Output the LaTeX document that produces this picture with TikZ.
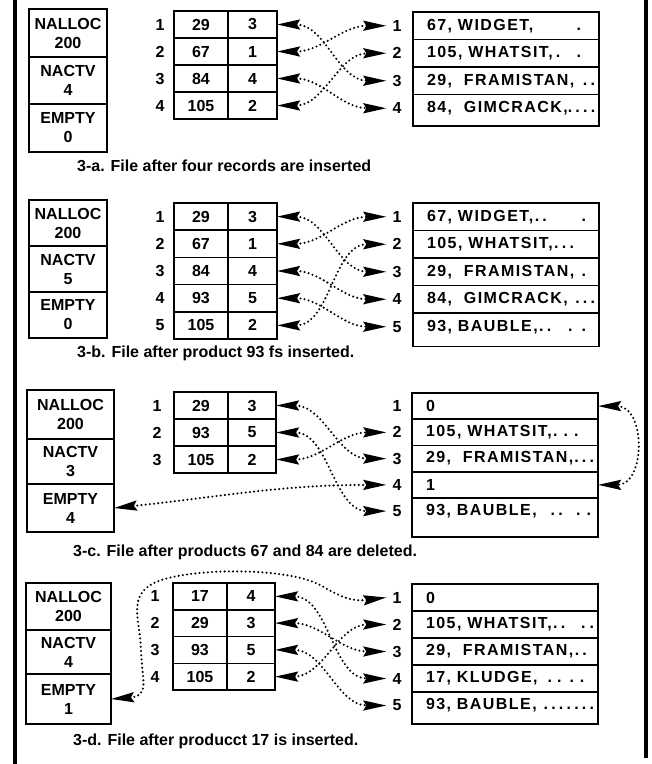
\documentclass[tikz,border=0pt]{standalone}
\usepackage{fontspec}
\setmainfont{Liberation Sans}
\usetikzlibrary{arrows.meta}

\tikzset{
  every node/.append style={font=\bfseries\fontsize{16}{19}\selectfont},
  regbox/.style={draw, line width=1.6pt, outer sep=0pt, inner sep=0pt,
                 anchor=north west, align=center},
  keycell/.style={draw, line width=1.5pt, outer sep=0pt, inner sep=0pt,
                  anchor=north west, minimum width=54pt},
  ptrcell/.style={draw, line width=1.5pt, outer sep=0pt, inner sep=0pt,
                  anchor=north west, minimum width=49pt},
  idx/.style={inner sep=0pt},
  recrow/.style={outer sep=0pt, inner sep=0pt, anchor=north west,
                 minimum width=186pt},
  recno/.style={inner xsep=6pt, inner ysep=0pt},
  frame/.style={line width=1.6pt},
  caption/.style={anchor=west, inner sep=0pt},
  link/.style={{Stealth[length=23pt,width=10pt,inset=3pt]}-{Stealth[length=23pt,width=10pt,inset=3pt]},
               line width=2.3pt, dash pattern=on 0pt off 4.2pt, line cap=round},
  border/.style={line width=3.4pt}
}
% record text: starts 14pt inside the row, ends 4pt before its right edge
\newcommand\rectext[1]{\hspace*{5pt}\makebox[168pt][l]{\addfontfeatures{LetterSpace=9}#1}\hspace*{-5pt}}
% gap between trailing dots
\newcommand\dg{\hspace{3.2pt}}

\begin{document}
\begin{tikzpicture}[x=1pt,y=-1pt]
\fill[white] (0,0) rectangle (652,764);
\useasboundingbox (0,0) rectangle (652,764);

% outer rules
\draw[border] (15,0) -- (15,764);
\draw[border] (646,0) -- (646,758);

% ---------------- 3-a ----------------
\node[regbox, minimum width=78pt, minimum height=48pt] (pa-nalloc) at (29,9) {NALLOC\\200};
\node[regbox, minimum width=78pt, minimum height=47pt] (pa-nactv) at (pa-nalloc.south west) {NACTV\\4};
\node[regbox, minimum width=78pt, minimum height=48pt] (pa-empty) at (pa-nactv.south west) {EMPTY\\0};
\foreach \k/\p [count=\i] in {29/3,67/1,84/4,105/2} {
  \node[keycell, minimum height=27pt] (pa-k\i) at (174,{11+27*(\i-1)}) {\k};
  \node[ptrcell, minimum height=27pt] (pa-p\i) at (pa-k\i.north east) {\p};
  \node[idx] (pa-i\i) at (160,{24.5+27*(\i-1)}) {\i};
}
\foreach \t [count=\i] in {{67, WIDGET,\hfill.\hspace{14pt}},{105, WHATSIT,\dg.\hfill.\hspace{14pt}},{29,\ \ FRAMISTAN,\hfill.\dg.},{84,\ \ GIMCRACK,\hfill.\dg.\dg.\dg.}} {
  \node[recrow, minimum height=27.5pt] (pa-r\i) at (413,{12+27.5*(\i-1)}) {\rectext{\t}};
  \node[recno] (pa-n\i) at ([xshift=-16pt]pa-r\i.west) {\i};
}
\draw[frame] (pa-r1.north west) rectangle ([yshift=-4pt]pa-r4.south east);
\foreach \i in {1,2,3} \draw[frame] (pa-r\i.south west) -- (pa-r\i.south east);
\draw[link] (pa-p1.east) to[out=0,in=180] (pa-n3.west);
\draw[link] (pa-p2.east) to[out=0,in=180] (pa-n1.west);
\draw[link] (pa-p3.east) to[out=0,in=180] (pa-n4.west);
\draw[link] (pa-p4.east) to[out=0,in=180] (pa-n2.west);
\node[caption] (pa-cap) at (77,166) {3-a. File after four records are inserted};

% ---------------- 3-b ----------------
\node[regbox, minimum width=78pt, minimum height=46pt] (pb-nalloc) at (29,200) {NALLOC\\200};
\node[regbox, minimum width=78pt, minimum height=46pt] (pb-nactv) at (pb-nalloc.south west) {NACTV\\5};
\node[regbox, minimum width=78pt, minimum height=46pt] (pb-empty) at (pb-nactv.south west) {EMPTY\\0};
\foreach \k/\p [count=\i] in {29/3,67/1,84/4,93/5,105/2} {
  \node[keycell, minimum height=27.2pt] (pb-k\i) at (174,{203+27.2*(\i-1)}) {\k};
  \node[ptrcell, minimum height=27.2pt] (pb-p\i) at (pb-k\i.north east) {\p};
  \node[idx] (pb-i\i) at (160,{216.6+27.2*(\i-1)}) {\i};
}
\foreach \t [count=\i] in {{67, WIDGET,.\dg.\hfill.\hspace{9pt}},{105, WHATSIT,.\dg.\dg.},{29,\ \ FRAMISTAN,\hfill.\hspace{9pt}},{84,\ \ GIMCRACK,\hfill.\dg.\dg.},{93, BAUBLE,.\dg.\hfill.\hspace{9pt}.\hspace{9pt}}} {
  \node[recrow, minimum height=27.5pt] (pb-r\i) at (413,{203+27.5*(\i-1)}) {\rectext{\t}};
  \node[recno] (pb-n\i) at ([xshift=-16pt]pb-r\i.west) {\i};
}
\draw[frame] (pb-r1.north west) rectangle ([yshift=-6pt]pb-r5.south east);
\foreach \i in {1,...,4} \draw[frame] (pb-r\i.south west) -- (pb-r\i.south east);
\draw[link] (pb-p1.east) to[out=0,in=180] (pb-n3.west);
\draw[link] (pb-p2.east) to[out=0,in=180] (pb-n1.west);
\draw[link] (pb-p3.east) to[out=0,in=180] (pb-n4.west);
\draw[link] (pb-p4.east) to[out=0,in=180] (pb-n5.west);
\draw[link] (pb-p5.east) to[out=0,in=180] (pb-n2.west);
\node[caption] (pb-cap) at (77,353) {3-b. File after product 93 fs inserted.};

% ---------------- 3-c ----------------
\node[regbox, minimum width=87pt, minimum height=49pt] (pc-nalloc) at (27,390) {NALLOC\\200};
\node[regbox, minimum width=87pt, minimum height=45pt] (pc-nactv) at (pc-nalloc.south west) {NACTV\\3};
\node[regbox, minimum width=87pt, minimum height=48pt] (pc-empty) at (pc-nactv.south west) {EMPTY\\4};
\foreach \k/\p [count=\i] in {29/3,93/5,105/2} {
  \node[keycell, minimum height=27pt] (pc-k\i) at (174,{392+27*(\i-1)}) {\k};
  \node[ptrcell, minimum height=27pt, minimum width=48pt] (pc-p\i) at (pc-k\i.north east) {\p};
  \node[idx] (pc-i\i) at (157,{405.5+27*(\i-1)}) {\i};
}
\foreach \t [count=\i] in {{0},{105, WHATSIT,.\hspace{6pt}.\hspace{6pt}.},{29,\ \ FRAMISTAN,\hfill.\dg.\dg.},{1},{93, BAUBLE,\hspace{14pt}.\dg.\hfill.\hspace{6pt}.\hspace{3pt}}} {
  \node[recrow, minimum height=26.25pt] (pc-r\i) at (412,{393+26.25*(\i-1)}) {\rectext{\t}};
  \node[recno] (pc-n\i) at ([xshift=-15pt]pc-r\i.west) {\i};
}
\draw[frame] (pc-r1.north west) rectangle ([yshift=-13pt]pc-r5.south east);
\foreach \i in {1,...,4} \draw[frame] (pc-r\i.south west) -- (pc-r\i.south east);
\draw[link] (pc-p1.east) to[out=0,in=180] (pc-n3.west);
\draw[link] (pc-p2.east) to[out=0,in=180] (pc-n5.west);
\draw[link] (pc-p3.east) to[out=0,in=180] (pc-n2.west);
\draw[link] (pc-empty.east) to[out=6,in=180] (pc-n4.west);
\draw[link] (pc-r1.east) .. controls +(48,0) and +(48,0) .. (pc-r4.east);
\node[caption] (pc-cap) at (73,552) {3-c. File after products 67 and 84 are deleted.};

% ---------------- 3-d ----------------
\node[regbox, minimum width=85pt, minimum height=47pt] (pd-nalloc) at (26,583) {NALLOC\\200};
\node[regbox, minimum width=85pt, minimum height=44pt] (pd-nactv) at (pd-nalloc.south west) {NACTV\\4};
\node[regbox, minimum width=85pt, minimum height=50pt] (pd-empty) at (pd-nactv.south west) {EMPTY\\1};
\foreach \k/\p [count=\i] in {17/4,29/3,93/5,105/2} {
  \node[keycell, minimum height=26.75pt] (pd-k\i) at (173,{583+26.75*(\i-1)}) {\k};
  \node[ptrcell, minimum height=26.75pt, minimum width=48pt] (pd-p\i) at (pd-k\i.north east) {\p};
  \node[idx] (pd-i\i) at (155,{596.4+26.75*(\i-1)}) {\i};
}
\foreach \t [count=\i] in {{0},{105, WHATSIT,.\dg.\hfill.\hspace{4pt}.},{29,\ \ FRAMISTAN,.\dg.},{17, KLUDGE,\hspace{10pt}.\hspace{5pt}.\hspace{8pt}.\hspace{6pt}.},{93, BAUBLE,\hfill.\dg.\dg.\dg.\dg.\dg.\dg.}} {
  \node[recrow, minimum height=27pt] (pd-r\i) at (412,{584+27*(\i-1)}) {\rectext{\t}};
  \node[recno] (pd-n\i) at ([xshift=-15pt]pd-r\i.west) {\i};
}
\draw[frame] (pd-r1.north west) rectangle ([yshift=-5pt]pd-r5.south east);
\foreach \i in {1,...,4} \draw[frame] (pd-r\i.south west) -- (pd-r\i.south east);
\draw[link] (pd-p1.east) to[out=0,in=180] (pd-n4.west);
\draw[link] (pd-p2.east) to[out=0,in=180] (pd-n3.west);
\draw[link] (pd-p3.east) to[out=0,in=180] (pd-n5.west);
\draw[link] (pd-p4.east) to[out=0,in=180] (pd-n2.west);
\draw[link] (pd-empty.east) .. controls (150,696) and (142,680) .. (141,650)
   .. controls (140,620) and (128,598) .. (152,584)
   .. controls (180,568) and (285,566) .. (320,585)
   .. controls (340,596) and (350,602) .. (pd-n1.west);
\node[caption] (pd-cap) at (73,741) {3-d. File after producct 17 is inserted.};
\end{tikzpicture}
\end{document}
